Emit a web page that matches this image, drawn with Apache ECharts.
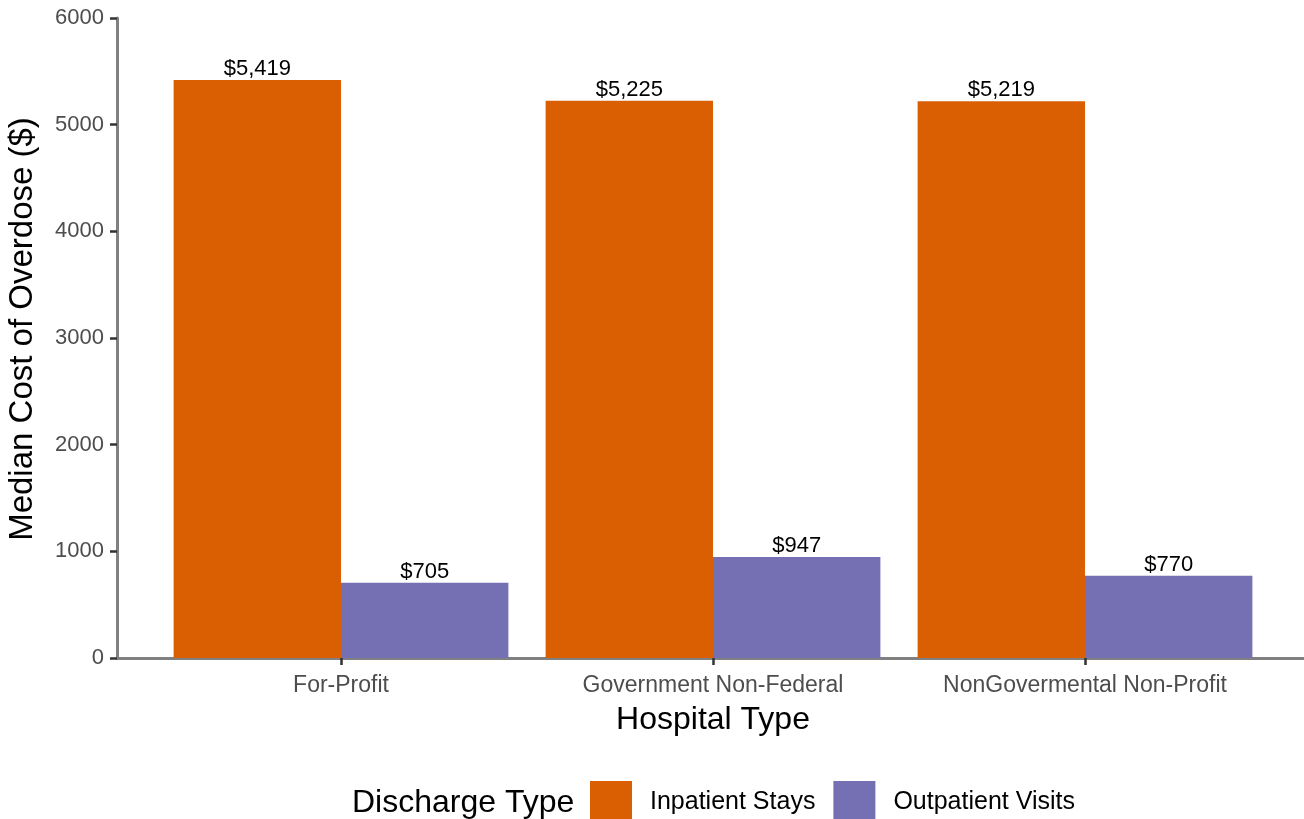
<!DOCTYPE html>
<html>
<head>
<meta charset="utf-8">
<script src="https://cdn.jsdelivr.net/npm/echarts@6/dist/echarts.min.js"></script>
<style>
html,body{margin:0;padding:0;background:#fff;}
#chart{width:1304px;height:819px;}
</style>
</head>
<body>
<div id="chart"></div>
<script>
const categories = ['For-Profit', 'Government Non-Federal', 'NonGovermental Non-Profit'];
const inpatient = [5419, 5225, 5219];
const outpatient = [705, 947, 770];
const seriesNames = ['Inpatient Stays', 'Outpatient Visits'];
const yTicks = [0, 1000, 2000, 3000, 4000, 5000, 6000];

const FONT = '"Liberation Sans", Arial, sans-serif';
const fmt = v => '$' + v.toLocaleString('en-US');
const yMin = yTicks[0], yMax = yTicks[yTicks.length - 1], yStep = yTicks[1] - yTicks[0];

const chart = echarts.init(document.getElementById('chart'), null, {renderer: 'canvas'});
chart.setOption({
  animation: false,
  textStyle: {fontFamily: FONT},
  grid: [
    {left: 117, right: 0, top: 18, bottom: 161, containLabel: false, outerBoundsMode: 'none'},
    {left: 155, right: 33, top: 18, bottom: 161, containLabel: false, outerBoundsMode: 'none'}
  ],
  xAxis: [
    {
      type: 'category', gridIndex: 0, data: categories,
      axisLine: {show: true, lineStyle: {color: '#808080', width: 3}},
      axisTick: {show: false}, axisLabel: {show: false}
    },
    {
      type: 'category', gridIndex: 1, data: categories,
      name: 'Hospital Type',
      nameLocation: 'middle',
      nameGap: 46,
      nameTextStyle: {fontSize: 32, color: '#000', fontFamily: FONT},
      axisLine: {show: false},
      axisTick: {show: true, alignWithLabel: true, length: 7, lineStyle: {color: '#333', width: 2.5}},
      axisLabel: {fontSize: 23, color: '#4d4d4d', margin: 16, fontFamily: FONT}
    }
  ],
  yAxis: [
    {
      type: 'value', gridIndex: 0,
      min: yMin, max: yMax, interval: yStep,
      name: 'Median Cost of Overdose ($)',
      nameLocation: 'middle',
      nameGap: 78,
      nameTextStyle: {fontSize: 33, color: '#000', fontFamily: FONT, padding: [0, 0, 0, 18]},
      axisLine: {show: true, lineStyle: {color: '#808080', width: 3}},
      axisTick: {show: true, length: 7, lineStyle: {color: '#333', width: 2.5}},
      axisLabel: {fontSize: 22, color: '#4d4d4d', margin: 13, fontFamily: FONT, formatter: v => String(v)},
      splitLine: {show: false}
    },
    {
      type: 'value', gridIndex: 1,
      min: yMin, max: yMax, interval: yStep,
      show: false, splitLine: {show: false}
    }
  ],
  legend: {
    left: 585,
    top: 776,
    itemWidth: 42,
    itemHeight: 42,
    itemGap: 18,
    icon: 'rect',
    data: seriesNames,
    textStyle: {fontSize: 25, color: '#000', fontFamily: FONT, padding: [2, 0, 0, 13]}
  },
  graphic: [{
    type: 'text',
    left: 352,
    top: 787,
    style: {text: 'Discharge Type', fontSize: 32, fill: '#000', fontFamily: FONT}
  }],
  series: [
    {
      name: seriesNames[0], type: 'bar', xAxisIndex: 1, yAxisIndex: 1,
      data: inpatient, barGap: '0%', barCategoryGap: '10%',
      itemStyle: {color: '#D95F02'},
      label: {show: true, position: 'top', distance: 0, fontSize: 22, color: '#000', fontFamily: FONT, formatter: p => fmt(p.value)}
    },
    {
      name: seriesNames[1], type: 'bar', xAxisIndex: 1, yAxisIndex: 1,
      data: outpatient, barGap: '0%', barCategoryGap: '10%',
      itemStyle: {color: '#7570B3'},
      label: {show: true, position: 'top', distance: 0, fontSize: 22, color: '#000', fontFamily: FONT, formatter: p => fmt(p.value)}
    }
  ]
});
</script>
</body>
</html>
